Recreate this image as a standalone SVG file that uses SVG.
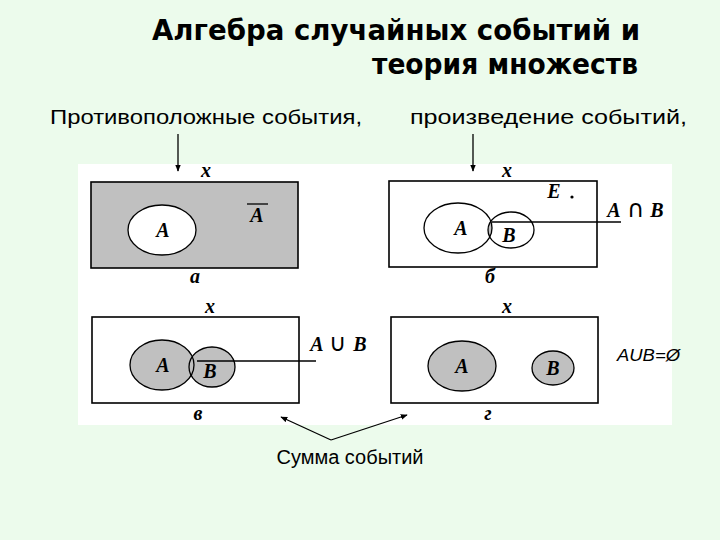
<svg xmlns="http://www.w3.org/2000/svg" width="720" height="540" viewBox="0 0 720 540">
<defs>
<style>
.title{font-family:"DejaVu Sans","Liberation Sans",sans-serif;font-weight:bold;font-size:28px;fill:#000}
.sub{font-family:"Liberation Sans",Arial,sans-serif;font-size:20px;fill:#000}
.lab{font-family:"Liberation Serif","Times New Roman",serif;font-weight:bold;font-style:italic;font-size:20px;fill:#000;text-anchor:middle}
.sym{font-family:"DejaVu Sans","Liberation Sans",sans-serif;font-size:24px;fill:#000}
.box{stroke:#000;stroke-width:1.6}
.ell{stroke:#000;stroke-width:1.3}
.con{stroke:#000;stroke-width:1.3;fill:none}
</style>
<marker id="ah" viewBox="0 0 10 10" refX="9" refY="5" markerWidth="7" markerHeight="7" orient="auto" markerUnits="userSpaceOnUse">
<path d="M0,1 L10,5 L0,9 z" fill="#000"/>
</marker>
<clipPath id="clipA2"><ellipse cx="458" cy="228" rx="34" ry="25"/></clipPath>
</defs>
<rect x="0" y="0" width="720" height="540" fill="#ECFBEC"/>
<rect x="78" y="164" width="594" height="261" fill="#FFFFFF"/>

<g id="title">
<text class="title" x="152" y="40" textLength="488" lengthAdjust="spacingAndGlyphs">Алгебра случайных событий и</text>
<text class="title" x="372" y="74" textLength="266" lengthAdjust="spacingAndGlyphs">теория множеств</text>
</g>
<g id="captions">
<text class="sub" x="50" y="124" textLength="312" lengthAdjust="spacingAndGlyphs">Противоположные события,</text>
<text class="sub" x="410" y="124" textLength="277" lengthAdjust="spacingAndGlyphs">произведение событий,</text>
<text class="sub" x="350" y="464" text-anchor="middle" textLength="147" lengthAdjust="spacingAndGlyphs">Сумма событий</text>
</g>

<g id="panel-a">
<rect class="box" x="91" y="182" width="207" height="86" fill="#C0C0C0"/>
<ellipse class="ell" cx="162" cy="230" rx="34" ry="25" fill="#FFFFFF"/>
<text class="lab" x="163" y="237">A</text>
<text class="lab" x="257" y="222">A</text>
<line x1="247" y1="204" x2="268" y2="204" stroke="#000" stroke-width="1.3"/>
<text class="lab" x="206" y="177">x</text>
<text class="lab" x="195" y="283">а</text>
</g>

<g id="panel-b">
<rect class="box" x="389" y="181" width="208" height="86" fill="#FFFFFF"/>
<ellipse cx="511" cy="230" rx="23" ry="18" fill="#C0C0C0" clip-path="url(#clipA2)"/>
<ellipse class="ell" cx="458" cy="228" rx="34" ry="25" fill="none"/>
<ellipse class="ell" cx="511" cy="230" rx="23" ry="18" fill="none"/>
<text class="lab" x="461" y="235">A</text>
<text class="lab" x="509" y="242">B</text>
<text class="lab" x="554" y="198">E</text>
<circle cx="572" cy="197" r="1.6" fill="#000"/>
<text class="lab" x="507" y="177">x</text>
<text class="lab" x="490" y="283">б</text>
<text class="lab" x="614" y="217">A</text>
<text class="sym" x="627" y="217">∩</text>
<text class="lab" x="657" y="217">B</text>
</g>

<g id="panel-c">
<rect class="box" x="92" y="317" width="207" height="86" fill="#FFFFFF"/>
<ellipse cx="162" cy="365" rx="32" ry="25" fill="#C0C0C0"/>
<ellipse cx="212" cy="367" rx="23" ry="20" fill="#C0C0C0"/>
<ellipse class="ell" cx="162" cy="365" rx="32" ry="25" fill="none"/>
<ellipse class="ell" cx="212" cy="367" rx="23" ry="20" fill="none"/>
<text class="lab" x="163" y="372">A</text>
<text class="lab" x="210" y="378">B</text>
<text class="lab" x="210" y="313">x</text>
<text class="lab" x="198" y="420">в</text>
<text class="lab" x="317" y="351">A</text>
<text class="sym" x="329" y="351">∪</text>
<text class="lab" x="360" y="351">B</text>
</g>

<g id="panel-d">
<rect class="box" x="391" y="317" width="207" height="86" fill="#FFFFFF"/>
<ellipse class="ell" cx="462" cy="366" rx="34" ry="25" fill="#C0C0C0"/>
<ellipse class="ell" cx="553" cy="368" rx="21" ry="17" fill="#C0C0C0"/>
<text class="lab" x="462" y="373">A</text>
<text class="lab" x="553" y="375">B</text>
<text class="lab" x="507" y="313">x</text>
<text class="lab" x="488" y="420">г</text>
<text x="617" y="361" font-family="Liberation Sans, Arial, sans-serif" font-style="italic" font-size="16" textLength="63" lengthAdjust="spacingAndGlyphs">AUB=Ø</text>
</g>

<g id="connectors">
<line class="con" x1="178" y1="134" x2="178" y2="171" marker-end="url(#ah)"/>
<line class="con" x1="473" y1="134" x2="473" y2="171" marker-end="url(#ah)"/>
<line class="con" x1="492" y1="222" x2="621" y2="222"/>
<line class="con" x1="197" y1="361" x2="316" y2="361"/>
<line class="con" x1="331" y1="440" x2="281" y2="417" marker-end="url(#ah)" stroke-width="1.8"/>
<line class="con" x1="331" y1="440" x2="407" y2="415" marker-end="url(#ah)" stroke-width="1.8"/>
</g>
</svg>
